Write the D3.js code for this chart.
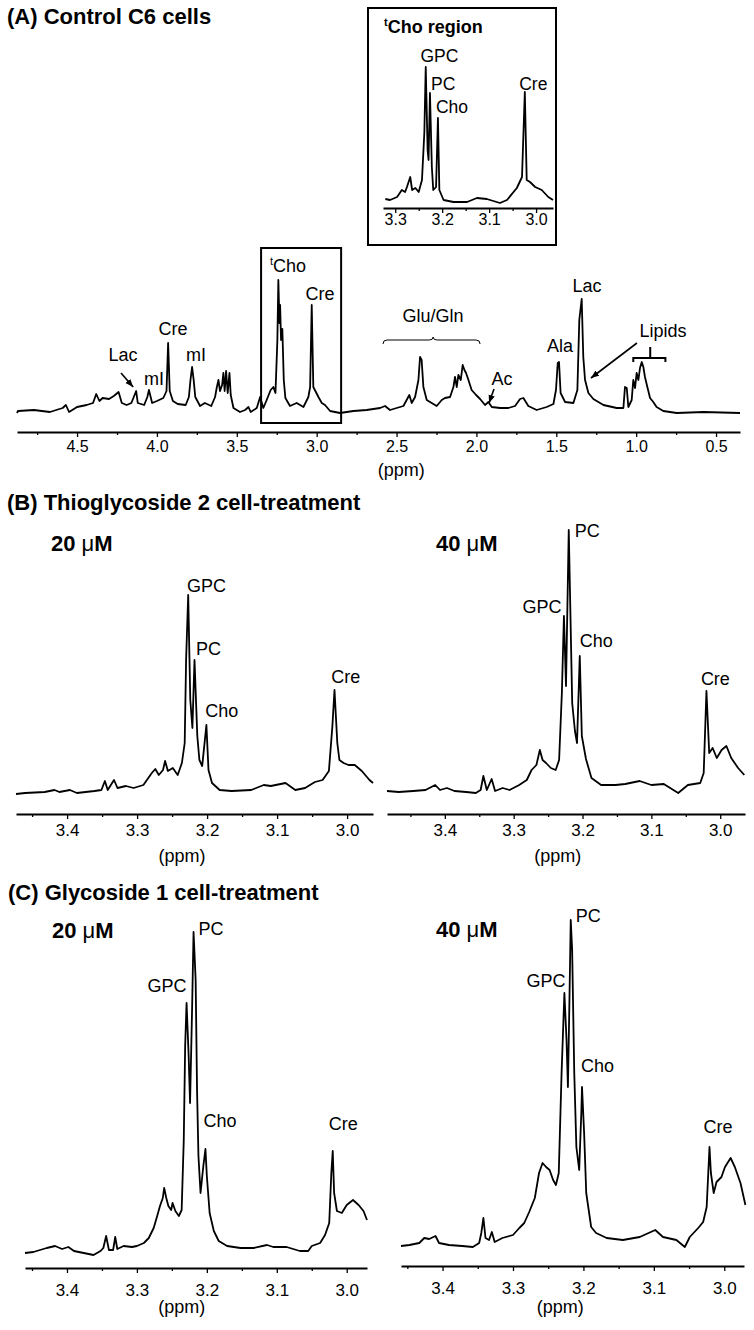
<!DOCTYPE html>
<html lang="en">
<head>
<meta charset="utf-8">
<title>1H NMR spectra of C6 cells</title>
<script src="https://cdn.jsdelivr.net/npm/d3@7"></script>
<style>
  body { margin: 0; background: #fff; }
  svg { font-family: "Liberation Sans", Arial, sans-serif; }
  .axis path, .axis line { stroke: #000; }
  .axis path { stroke-width: 2; }
  .axis line { stroke-width: 1.3; }
  .axis text { fill: #000; }
  .trace { fill: none; stroke: #000; stroke-width: 1.8; stroke-linejoin: round; }
</style>
</head>
<body>
<svg width="754" height="1330"></svg>
<script>
// ---------- data: [ppm, intensity] ----------
var controlSpectrum = [
  [4.876,0],[4.87,2],[4.77,3],[4.67,1],[4.59,5],[4.57,8],[4.55,1],[4.50,6],[4.44,8],[4.40,10],
  [4.38,19],[4.36,12],[4.34,15],[4.30,14],[4.27,17],[4.24,21],[4.22,10],[4.19,8],[4.16,10],[4.14,18],
  [4.13,22],[4.12,10],[4.08,8],[4.06,16],[4.05,23],[4.03,10],[4.00,12],[3.96,15],[3.94,22],[3.93,70],
  [3.92,22],[3.90,12],[3.87,9],[3.82,8],[3.80,16],[3.79,33],[3.78,46],[3.77,33],[3.76,16],[3.73,7],
  [3.70,10],[3.66,7],[3.636,16],[3.626,25],[3.615,33],[3.605,22],[3.592,28],[3.584,40],[3.576,22],[3.567,42],
  [3.557,20],[3.546,40],[3.538,18],[3.521,5],[3.480,1],[3.448,3],[3.427,6],[3.413,1],[3.375,5],[3.354,16],
  [3.334,5],[3.313,13],[3.288,23],[3.271,26],[3.258,20],[3.246,73],[3.240,133],[3.233,90],[3.229,108],[3.223,73],
  [3.215,84],[3.206,33],[3.196,15],[3.167,7],[3.125,10],[3.083,6],[3.052,16],[3.041,26],[3.031,108],[3.021,26],
  [2.989,16],[2.968,10],[2.948,8],[2.916,2],[2.854,0],[2.770,2],[2.687,3],[2.603,5],[2.572,7],[2.541,3],
  [2.499,5],[2.457,7],[2.420,18],[2.405,10],[2.384,16],[2.363,33],[2.353,56],[2.343,53],[2.332,26],[2.311,13],
  [2.280,10],[2.249,7],[2.217,13],[2.197,15],[2.165,16],[2.144,26],[2.134,36],[2.123,26],[2.113,38],[2.098,33],
  [2.086,48],[2.075,43],[2.065,40],[2.050,33],[2.030,23],[2.002,18],[1.977,14],[1.946,8],[1.925,11],[1.904,6],
  [1.852,5],[1.800,5],[1.758,7],[1.727,14],[1.706,15],[1.675,7],[1.623,3],[1.560,6],[1.518,9],[1.502,23],
  [1.491,50],[1.483,51],[1.473,20],[1.445,11],[1.393,10],[1.368,23],[1.356,93],[1.341,114],[1.331,56],[1.320,33],
  [1.299,20],[1.268,14],[1.205,8],[1.122,5],[1.080,5],[1.070,26],[1.059,25],[1.049,6],[1.028,13],[1.018,33],
  [1.007,25],[0.997,40],[0.986,33],[0.976,45],[0.965,51],[0.955,46],[0.945,36],[0.930,26],[0.913,15],[0.893,11],
  [0.872,6],[0.830,2],[0.746,0],[0.579,1],[0.350,0]
];

var insetSpectrum = [
  [3.321,4],[3.311,3],[3.296,6],[3.286,13],[3.279,11],[3.275,16],[3.268,26],[3.264,13],[3.257,15],[3.250,11],
  [3.243,23],[3.238,70],[3.235,136],[3.231,53],[3.229,43],[3.226,110],[3.222,36],[3.219,13],[3.213,16],[3.209,85],
  [3.206,13],[3.197,3],[3.176,1],[3.147,1],[3.126,5],[3.105,4],[3.077,0],[3.062,3],[3.041,15],[3.030,26],
  [3.024,111],[3.020,23],[3.013,21],[3.002,16],[2.988,13],[2.974,6],[2.964,3]
];

var thio20Spectrum = [
  [3.473,0],[3.460,1],[3.432,2],[3.418,4],[3.411,2],[3.396,4],[3.386,1],[3.361,3],[3.351,4],[3.346,13],
  [3.342,4],[3.333,14],[3.328,6],[3.316,8],[3.305,6],[3.291,9],[3.279,21],[3.274,25],[3.269,19],[3.263,24],
  [3.260,33],[3.256,23],[3.249,26],[3.242,19],[3.236,31],[3.232,51],[3.230,134],[3.227,199],[3.224,94],[3.221,66],
  [3.218,134],[3.214,58],[3.211,34],[3.207,28],[3.201,69],[3.198,24],[3.193,11],[3.182,4],[3.165,3],[3.137,4],
  [3.119,9],[3.109,8],[3.088,11],[3.074,4],[3.060,6],[3.046,12],[3.035,14],[3.026,23],[3.021,68],[3.018,104],
  [3.014,51],[3.011,34],[3.005,31],[2.998,29],[2.989,29],[2.979,23],[2.968,14],[2.963,11]
];

var thio40Spectrum = [
  [3.484,2],[3.467,1],[3.446,2],[3.428,3],[3.414,8],[3.407,3],[3.397,5],[3.386,2],[3.369,1],[3.355,0],
  [3.348,3],[3.344,17],[3.339,3],[3.332,14],[3.327,2],[3.316,5],[3.306,3],[3.292,8],[3.281,13],[3.274,23],
  [3.267,28],[3.262,43],[3.258,33],[3.253,30],[3.246,25],[3.239,23],[3.234,33],[3.230,100],[3.227,177],[3.224,107],
  [3.220,263],[3.215,90],[3.211,62],[3.208,50],[3.204,137],[3.201,57],[3.195,34],[3.187,15],[3.173,8],[3.152,8],
  [3.138,9],[3.117,12],[3.100,8],[3.082,9],[3.061,0],[3.047,8],[3.029,10],[3.024,20],[3.020,102],[3.016,40],
  [3.011,45],[3.005,35],[2.998,43],[2.991,47],[2.984,35],[2.974,25],[2.965,18]
];

var gly20Spectrum = [
  [3.460,0],[3.448,1],[3.429,5],[3.417,7],[3.407,4],[3.398,6],[3.390,2],[3.376,0],[3.362,-2],[3.352,2],
  [3.348,5],[3.344,17],[3.340,3],[3.334,3],[3.331,16],[3.328,4],[3.319,7],[3.307,6],[3.300,7],[3.290,10],
  [3.283,15],[3.276,25],[3.271,37],[3.267,47],[3.263,55],[3.261,65],[3.258,55],[3.255,47],[3.251,43],[3.249,50],
  [3.245,42],[3.240,37],[3.236,43],[3.233,113],[3.231,207],[3.229,250],[3.226,197],[3.224,150],[3.221,247],[3.219,321],
  [3.216,273],[3.214,163],[3.212,97],[3.209,60],[3.205,87],[3.202,104],[3.200,77],[3.196,40],[3.190,22],[3.183,12],
  [3.171,7],[3.152,5],[3.133,5],[3.114,8],[3.105,6],[3.086,6],[3.067,2],[3.055,2],[3.050,7],[3.038,10],
  [3.031,18],[3.025,30],[3.022,80],[3.020,102],[3.018,60],[3.014,42],[3.007,40],[3.000,48],[2.991,53],[2.983,48],
  [2.976,42],[2.971,33]
];

var gly40Spectrum = [
  [3.459,0],[3.447,1],[3.433,3],[3.426,8],[3.419,7],[3.410,10],[3.405,3],[3.391,1],[3.372,0],[3.357,-1],
  [3.348,3],[3.345,13],[3.342,28],[3.339,8],[3.334,6],[3.330,14],[3.326,4],[3.315,8],[3.300,11],[3.291,18],
  [3.284,23],[3.277,34],[3.269,48],[3.263,73],[3.258,83],[3.253,79],[3.248,76],[3.243,66],[3.239,61],[3.235,73],
  [3.231,173],[3.227,253],[3.224,206],[3.222,159],[3.220,239],[3.218,326],[3.216,296],[3.213,173],[3.210,99],[3.206,76],
  [3.203,133],[3.202,159],[3.199,113],[3.196,53],[3.189,19],[3.182,13],[3.167,8],[3.144,6],[3.120,9],[3.098,16],
  [3.087,9],[3.068,6],[3.056,-1],[3.049,9],[3.037,18],[3.030,24],[3.025,39],[3.021,99],[3.019,73],[3.015,53],
  [3.011,64],[3.004,69],[2.999,79],[2.991,88],[2.985,79],[2.977,63],[2.970,41]
];

// tick values
var wideTicks = [4.5, 4.0, 3.5, 3.0, 2.5, 2.0, 1.5, 1.0, 0.5];
var wideMinor = [4.75, 4.25, 3.75, 3.25, 2.75, 2.25, 1.75, 1.25, 0.75];
var zoomTicks = [3.4, 3.3, 3.2, 3.1, 3.0];
var zoomMinor = [3.45, 3.35, 3.25, 3.15, 3.05];
var insetTicks = [3.3, 3.2, 3.1, 3.0];
var insetMinor = [3.25, 3.15, 3.05];

// peak labels, placed in (ppm, intensity)
var controlLabels = [
  {name: "Lac", ppm: 4.212, i: 52}, {name: "mI", ppm: 4.018, i: 28},
  {name: "Cre", ppm: 3.899, i: 78}, {name: "mI", ppm: 3.755, i: 52},
  {name: "Cre", ppm: 2.979, i: 113}, {name: "Glu/Gln", ppm: 2.271, i: 91},
  {name: "Ac", ppm: 1.840, i: 28}, {name: "Ala", ppm: 1.477, i: 61},
  {name: "Lac", ppm: 1.308, i: 121}, {name: "Lipids", ppm: 0.832, i: 76}
];
var insetLabels = [
  {name: "GPC", ppm: 3.206, i: 141}, {name: "PC", ppm: 3.198, i: 113},
  {name: "Cho", ppm: 3.179, i: 90}, {name: "Cre", ppm: 3.006, i: 113}
];
var thio20Labels = [
  {name: "GPC", ppm: 3.201, i: 202}, {name: "PC", ppm: 3.198, i: 139},
  {name: "Cho", ppm: 3.179, i: 77}, {name: "Cre", ppm: 3.002, i: 111}
];
var thio40Labels = [
  {name: "PC", ppm: 3.193, i: 256}, {name: "GPC", ppm: 3.259, i: 180},
  {name: "Cho", ppm: 3.180, i: 146}, {name: "Cre", ppm: 3.007, i: 108}
];
var gly20Labels = [
  {name: "PC", ppm: 3.194, i: 318}, {name: "GPC", ppm: 3.257, i: 261},
  {name: "Cho", ppm: 3.181, i: 126}, {name: "Cre", ppm: 3.005, i: 123}
];
var gly40Labels = [
  {name: "PC", ppm: 3.193, i: 324}, {name: "GPC", ppm: 3.253, i: 259},
  {name: "Cho", ppm: 3.180, i: 174}, {name: "Cre", ppm: 3.009, i: 113}
];

// ---------- layout ----------
var svg = d3.select("svg");

var defs = svg.append("defs");
defs.append("marker")
    .attr("id", "arrow")
    .attr("viewBox", "0 0 10 8")
    .attr("refX", 10).attr("refY", 4)
    .attr("markerWidth", 8).attr("markerHeight", 7)
    .attr("markerUnits", "userSpaceOnUse")
    .attr("orient", "auto")
  .append("path")
    .attr("d", "M0,0 L10,4 L0,8 z")
    .attr("fill", "#000");

var panels = [
  {data: controlSpectrum, labels: controlLabels, xd: [4.876, 0.35], xr: [17, 740], base: 413, axisY: 432,
   ticks: wideTicks, minor: wideMinor, tickFont: 16, pad: 4, ppmAt: 2.47, ppmY: 476, labelFont: 18},
  {data: insetSpectrum, labels: insetLabels, xd: [3.326, 2.964], xr: [383, 553], base: 203, axisY: 208,
   ticks: insetTicks, minor: insetMinor, tickFont: 16, pad: 1, ppmAt: null, labelFont: 17.5},
  {data: thio20Spectrum, labels: thio20Labels, xd: [3.473, 2.963], xr: [16, 373], base: 794, axisY: 814,
   ticks: zoomTicks, minor: zoomMinor, tickFont: 17, pad: 5, ppmAt: 3.236, ppmY: 862, labelFont: 18},
  {data: thio40Spectrum, labels: thio40Labels, xd: [3.484, 2.964], xr: [387, 745], base: 793, axisY: 814,
   ticks: zoomTicks, minor: zoomMinor, tickFont: 17, pad: 5, ppmAt: 3.236, ppmY: 862, labelFont: 18},
  {data: gly20Spectrum, labels: gly20Labels, xd: [3.46, 2.971], xr: [25, 367], base: 1253, axisY: 1268,
   ticks: zoomTicks, minor: zoomMinor, tickFont: 17, pad: 11, ppmAt: 3.236, ppmY: 1313, labelFont: 18},
  {data: gly40Spectrum, labels: gly40Labels, xd: [3.459, 2.972], xr: [401, 744], base: 1246, axisY: 1266,
   ticks: zoomTicks, minor: zoomMinor, tickFont: 17, pad: 11, ppmAt: 3.233, ppmY: 1313, labelFont: 18}
];

panels.forEach(function(p) {
  p.x = d3.scaleLinear().domain(p.xd).range(p.xr);
  p.y = d3.scaleLinear().domain([0, 300]).range([p.base, p.base - 300]);

  // minor ticks
  svg.append("g")
      .attr("class", "axis")
      .attr("transform", "translate(0," + p.axisY + ")")
      .call(d3.axisBottom(p.x).tickValues(p.minor).tickSize(3).tickSizeOuter(0).tickFormat(""))
      .select(".domain").remove();

  // major ticks + labels
  var ax = svg.append("g")
      .attr("class", "axis")
      .attr("transform", "translate(0," + p.axisY + ")")
      .call(d3.axisBottom(p.x).tickValues(p.ticks).tickSize(5).tickSizeOuter(0)
              .tickPadding(p.pad).tickFormat(d3.format(".1f")));
  ax.selectAll("text")
      .attr("font-size", p.tickFont)
      .attr("font-family", "Liberation Sans, Arial, sans-serif");

  if (p.ppmAt !== null) {
    svg.append("text")
        .attr("x", p.x(p.ppmAt))
        .attr("y", p.ppmY)
        .attr("text-anchor", "middle")
        .attr("font-size", 18)
        .text("(ppm)");
  }

  // spectrum
  var line = d3.line()
      .x(function(d) { return p.x(d[0]); })
      .y(function(d) { return p.y(d[1]); });
  svg.append("path")
      .datum(p.data)
      .attr("class", "trace")
      .attr("d", line);

  // peak labels
  svg.selectAll(null)
      .data(p.labels)
    .enter().append("text")
      .attr("x", function(d) { return p.x(d.ppm); })
      .attr("y", function(d) { return p.y(d.i); })
      .attr("text-anchor", "middle")
      .attr("font-size", p.labelFont)
      .text(function(d) { return d.name; });
});

// ---------- panel A annotations ----------
var A = panels[0];

// box round the tCho region
svg.append("rect")
    .attr("x", A.x(3.348))
    .attr("y", A.y(165))
    .attr("width", A.x(2.847) - A.x(3.348))
    .attr("height", A.y(-10) - A.y(165))
    .attr("fill", "none")
    .attr("stroke", "#000")
    .attr("stroke-width", 2);

var tcho = svg.append("text")
    .attr("x", A.x(3.292))
    .attr("y", A.y(141))
    .attr("font-size", 18);
tcho.append("tspan").attr("font-size", 11).attr("dy", -7).text("t");
tcho.append("tspan").attr("dy", 7).text("Cho");

// arrows
var arrows = [
  {from: [4.225, 40], to: [4.149, 26]},
  {from: [1.890, 24], to: [1.921, 10]},
  {from: [0.995, 70], to: [1.283, 35]}
];
svg.selectAll(null)
    .data(arrows)
  .enter().append("line")
    .attr("x1", function(d) { return A.x(d.from[0]); })
    .attr("y1", function(d) { return A.y(d.from[1]); })
    .attr("x2", function(d) { return A.x(d.to[0]); })
    .attr("y2", function(d) { return A.y(d.to[1]); })
    .attr("stroke", "#000")
    .attr("stroke-width", 1.6)
    .attr("marker-end", "url(#arrow)");

// Glu/Gln brace
var bx0 = A.x(2.585), bx1 = A.x(1.977), bxc = A.x(2.271), by = A.y(73);
svg.append("path")
    .attr("d", "M" + bx0 + "," + (by + 4) + " Q" + bx0 + "," + by + " " + (bx0 + 4) + "," + by +
               " L" + (bxc - 4) + "," + by + " Q" + bxc + "," + by + " " + bxc + "," + (by - 3) +
               " Q" + bxc + "," + by + " " + (bxc + 4) + "," + by +
               " L" + (bx1 - 4) + "," + by + " Q" + bx1 + "," + by + " " + bx1 + "," + (by + 4))
    .attr("fill", "none")
    .attr("stroke", "#000")
    .attr("stroke-width", 1);

// lipid bracket
var lx0 = A.x(1.018), lx1 = A.x(0.817), lxc = A.x(0.912), ly = A.y(55);
svg.append("path")
    .attr("d", "M" + lx0 + "," + A.y(51) + " L" + lx0 + "," + ly + " L" + lx1 + "," + ly +
               " L" + lx1 + "," + A.y(51) + " M" + lxc + "," + ly + " L" + lxc + "," + A.y(66))
    .attr("fill", "none")
    .attr("stroke", "#000")
    .attr("stroke-width", 2);

// inset frame and its title
svg.append("rect")
    .attr("x", 368).attr("y", 8)
    .attr("width", 188).attr("height", 237)
    .attr("fill", "none")
    .attr("stroke", "#000")
    .attr("stroke-width", 2);
var it = svg.append("text")
    .attr("x", 384).attr("y", 33)
    .attr("font-size", 18).attr("font-weight", "bold");
it.append("tspan").attr("font-size", 11).attr("dy", -7).text("t");
it.append("tspan").attr("dy", 7).text("Cho region");

// ---------- titles ----------
var titles = [
  {t: "(A) Control C6 cells", x: 7, y: 24},
  {t: "(B) Thioglycoside 2 cell-treatment", x: 7, y: 510},
  {t: "(C) Glycoside 1 cell-treatment", x: 8, y: 900}
];
svg.selectAll(null)
    .data(titles)
  .enter().append("text")
    .attr("x", function(d) { return d.x; })
    .attr("y", function(d) { return d.y; })
    .attr("font-size", 22)
    .attr("font-weight", "bold")
    .text(function(d) { return d.t; });

var doses = [
  {n: "20", x: 51, y: 551}, {n: "40", x: 436, y: 551},
  {n: "20", x: 52, y: 938}, {n: "40", x: 436, y: 937}
];
doses.forEach(function(d) {
  var t = svg.append("text")
      .attr("x", d.x).attr("y", d.y)
      .attr("font-size", 22).attr("font-weight", "bold");
  t.append("tspan").text(d.n + " ");
  t.append("tspan").attr("font-weight", "normal").text("\u03bc");
  t.append("tspan").text("M");
});
</script>
</body>
</html>
